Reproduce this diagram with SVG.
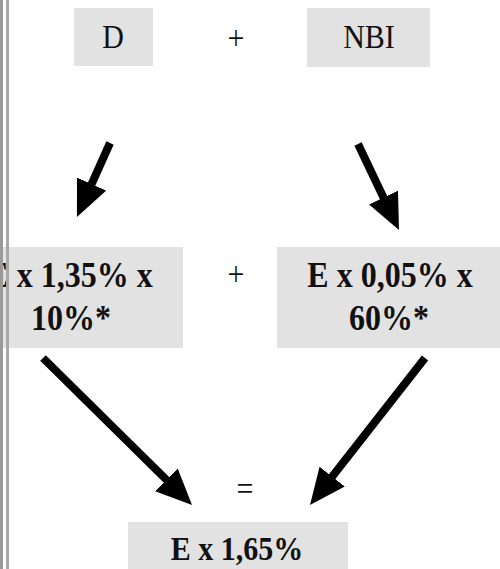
<svg xmlns="http://www.w3.org/2000/svg" width="500" height="569" viewBox="0 0 500 569">
  <style>
    .box { fill: #e2e2e2; }
    .reg { font-family: "Liberation Serif", "Times New Roman", serif; font-size: 30px; fill: #111; text-anchor: middle; }
    .bold { font-family: "Liberation Serif", "Times New Roman", serif; font-size: 32px; font-weight: bold; fill: #111; text-anchor: middle; }
    .arrow { stroke: #000; stroke-width: 8; fill: none; marker-end: url(#head); }
  </style>
  <defs>
    <marker id="head" markerUnits="userSpaceOnUse" markerWidth="40" markerHeight="34" refX="16" refY="16" orient="auto">
      <path d="M0,0 L36,16 L0,32 Z" fill="#000"/>
    </marker>
  </defs>
  <rect width="500" height="569" fill="#fff"/>

  <g id="node-d">
    <rect class="box" x="74" y="8" width="79" height="58"/>
    <text class="reg" transform="translate(113,48) scale(1,1.12)">D</text>
  </g>
  <g id="plus-top">
    <text class="reg" transform="translate(236,49) scale(1,1.1)">+</text>
  </g>
  <g id="node-nbi">
    <rect class="box" x="307" y="8" width="123" height="59"/>
    <text class="reg" transform="translate(369,48) scale(1,1.12)">NBI</text>
  </g>

  <g id="node-left">
    <rect class="box" x="0" y="247" width="183" height="101"/>
    <text class="bold" transform="translate(70,287) scale(1,1.1)">E x 1,35% x</text>
    <text class="bold" transform="translate(71,330) scale(1,1.1)">10%*</text>
  </g>
  <g id="plus-mid">
    <text class="reg" transform="translate(236,285) scale(1,1.1)">+</text>
  </g>
  <g id="node-right">
    <rect class="box" x="277" y="247" width="223" height="101"/>
    <text class="bold" transform="translate(390,287) scale(1,1.1)">E x 0,05% x</text>
    <text class="bold" transform="translate(389,330) scale(1,1.1)">60%*</text>
  </g>

  <g id="equals">
    <text class="reg" transform="translate(245,500) scale(1,1.1)">=</text>
  </g>
  <g id="node-result">
    <rect class="box" x="128" y="522" width="220" height="47"/>
    <text class="bold" transform="translate(237,560) scale(1,1.1)" style="font-size:30px">E x 1,65%</text>
  </g>

  <g id="connectors">
    <line class="arrow" x1="110" y1="143" x2="85.1" y2="198.7"/>
    <line class="arrow" x1="358" y1="144" x2="390.4" y2="212"/>
    <line class="arrow" x1="43" y1="358" x2="177.8" y2="491"/>
    <line class="arrow" x1="425" y1="358" x2="322.3" y2="489.2"/>
  </g>

  <g id="border">
    <rect x="0" y="0" width="3" height="569" fill="#9a9a9a"/>
    <rect x="6" y="0" width="3" height="569" fill="#a8a8a8"/>
  </g>
</svg>
